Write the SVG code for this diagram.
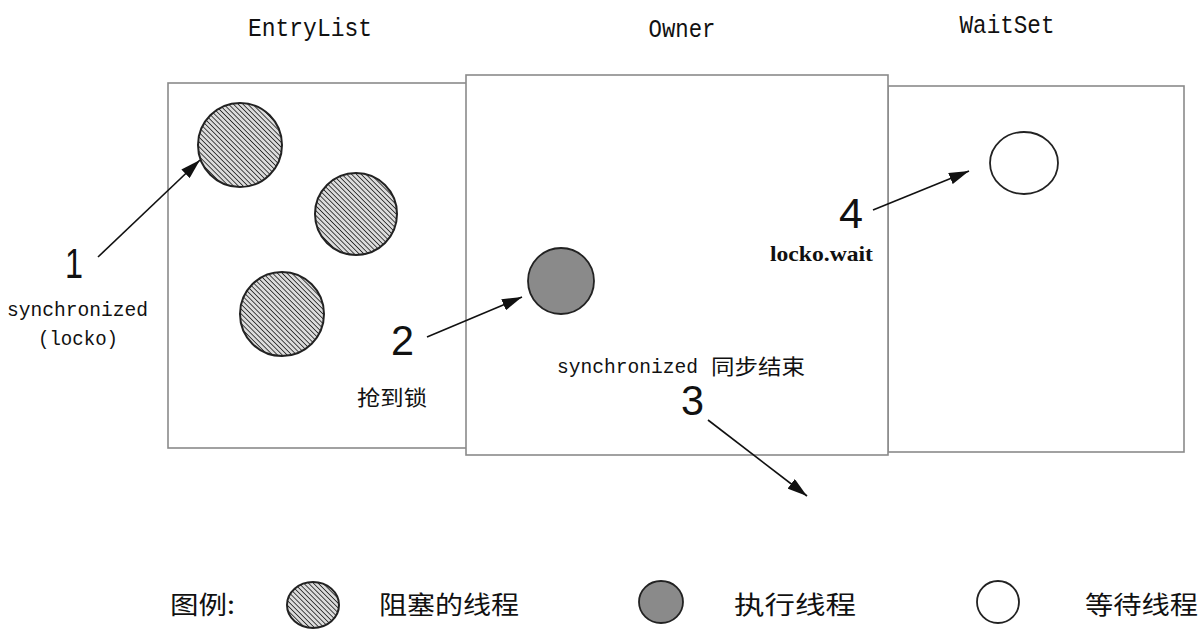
<svg xmlns="http://www.w3.org/2000/svg" width="1200" height="641" viewBox="0 0 1200 641">
<defs>
<style>
.box{fill:#fff;stroke:#8a8a8a;stroke-width:1.6}
.hatch{fill:url(#hp);stroke:#222;stroke-width:2}
.exec{fill:#8a8a8a;stroke:#222;stroke-width:1.8}
.wait{fill:#fff;stroke:#222;stroke-width:1.8}
.title{font-family:"Liberation Mono",monospace;font-size:26px;fill:#111}
.mono{font-family:"Liberation Mono",monospace;font-size:21px;fill:#111}
.num{font-family:"Liberation Sans",Arial,sans-serif;font-size:43px;fill:#111}
.cjk{font-family:"Noto Sans CJK SC","Liberation Sans",sans-serif;font-size:21px;fill:#111}
.leg{font-family:"Noto Sans CJK SC","Liberation Sans",sans-serif;font-size:25px;fill:#111}
.bold{font-family:"Liberation Serif","Times New Roman",serif;font-weight:bold;font-size:22px;fill:#111}
.conn{stroke:#111;stroke-width:1.6;fill:none;marker-end:url(#ah)}
</style>
<pattern id="hp" width="3.4" height="3.4" patternUnits="userSpaceOnUse" patternTransform="rotate(45)">
<rect width="3.4" height="3.4" fill="#dcdcdc"/>
<line x1="0" y1="0" x2="3.4" y2="0" stroke="#2a2a2a" stroke-width="1.7"/>
</pattern>
<marker id="ah" viewBox="0 0 20 12" refX="20" refY="6" markerWidth="20" markerHeight="12" markerUnits="userSpaceOnUse" orient="auto">
<path d="M0,0 L20,6 L0,12 Z" fill="#111"/>
</marker>
</defs>
<rect width="1200" height="641" fill="#fff"/>

<g id="entrylist">
<rect class="box" x="168" y="83" width="300" height="365"/>
<text class="title" x="310" y="36" text-anchor="middle" textLength="124" lengthAdjust="spacingAndGlyphs">EntryList</text>
<circle class="hatch" cx="240" cy="145" r="42"/>
<circle class="hatch" cx="356" cy="214" r="41"/>
<circle class="hatch" cx="282" cy="314" r="42"/>
</g>

<g id="waitset">
<rect class="box" x="888" y="86" width="296" height="366"/>
<text class="title" x="1007" y="33" text-anchor="middle" textLength="95" lengthAdjust="spacingAndGlyphs">WaitSet</text>
<ellipse class="wait" cx="1024" cy="163" rx="34" ry="31"/>
</g>

<g id="owner">
<rect class="box" x="466" y="75" width="422" height="380"/>
<text class="title" x="682" y="37" text-anchor="middle" textLength="67" lengthAdjust="spacingAndGlyphs">Owner</text>
<circle class="exec" cx="561" cy="281" r="33"/>
</g>

<g id="labels">
<text class="num" x="65" y="278" textLength="18" lengthAdjust="spacingAndGlyphs">1</text>
<text class="mono" x="7" y="316" textLength="141" lengthAdjust="spacingAndGlyphs">synchronized</text>
<text class="mono" x="38" y="345" textLength="80" lengthAdjust="spacingAndGlyphs">(locko)</text>
<text class="num" x="391" y="355" textLength="23" lengthAdjust="spacingAndGlyphs">2</text>
<text class="cjk" x="357" y="405" textLength="70" lengthAdjust="spacingAndGlyphs">抢到锁</text>
<text class="mono" x="557" y="373" textLength="141" lengthAdjust="spacingAndGlyphs">synchronized</text>
<text class="cjk" x="711" y="374" textLength="94" lengthAdjust="spacingAndGlyphs">同步结束</text>
<text class="num" x="681" y="415" textLength="23" lengthAdjust="spacingAndGlyphs">3</text>
<text class="num" x="839" y="228" textLength="24" lengthAdjust="spacingAndGlyphs">4</text>
<text class="bold" x="770" y="261" textLength="103" lengthAdjust="spacingAndGlyphs">locko.wait</text>
</g>

<g id="connectors">
<path class="conn" d="M98,257 L200,160"/>
<path class="conn" d="M427,337 L522,297"/>
<path class="conn" d="M708,420 L807,496"/>
<path class="conn" d="M873,210 L969,171"/>
</g>

<g id="legend">
<text class="leg" x="170" y="614" textLength="65" lengthAdjust="spacingAndGlyphs">图例:</text>
<ellipse class="hatch" cx="313" cy="605" rx="26" ry="23"/>
<text class="leg" x="379" y="614" textLength="140" lengthAdjust="spacingAndGlyphs">阻塞的线程</text>
<ellipse class="exec" cx="661" cy="602" rx="22" ry="21"/>
<text class="leg" x="734" y="614" textLength="122" lengthAdjust="spacingAndGlyphs">执行线程</text>
<ellipse class="wait" cx="998" cy="602" rx="21" ry="21"/>
<text class="leg" x="1085" y="614" textLength="113" lengthAdjust="spacingAndGlyphs">等待线程</text>
</g>
</svg>
